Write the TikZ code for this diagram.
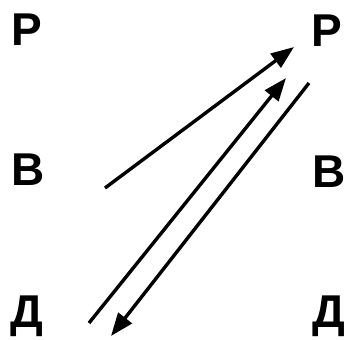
\documentclass[tikz,border=0pt]{standalone}
\usepackage{fontspec}
\setmainfont{Liberation Sans}
\usetikzlibrary{arrows.meta}

\begin{document}
\begin{tikzpicture}[x=1pt, y=-1pt, >={Triangle[length=23pt, width=17pt]},
  letter/.style={anchor=base, font=\fontsize{46}{46}\selectfont\bfseries, inner sep=0pt},
  link/.style={->, line width=3.4pt}]
  \useasboundingbox (0,0) rectangle (347,339);

  % Letters, left column
  \node[letter] (pL) at (27,46) {Р};
  \node[letter] (vL) at (28,185) {В};
  \node[letter] (dL) at (26.5,327) {Д};

  % Letters, right column
  \node[letter] (pR) at (327,47) {Р};
  \node[letter] (vR) at (329,187) {В};
  \node[letter] (dR) at (328.5,327) {Д};

  % Arrow ends
  \coordinate (a1) at (105,188);
  \coordinate (b1) at (294,47);
  \coordinate (a2) at (89,323);
  \coordinate (b2) at (286,78);
  \coordinate (a3) at (309,83);
  \coordinate (b3) at (111,336);

  % Arrows
  \draw[link] (a1) -- (b1);
  \draw[link] (a2) -- (b2);
  \draw[link] (a3) -- (b3);
\end{tikzpicture}
\end{document}
